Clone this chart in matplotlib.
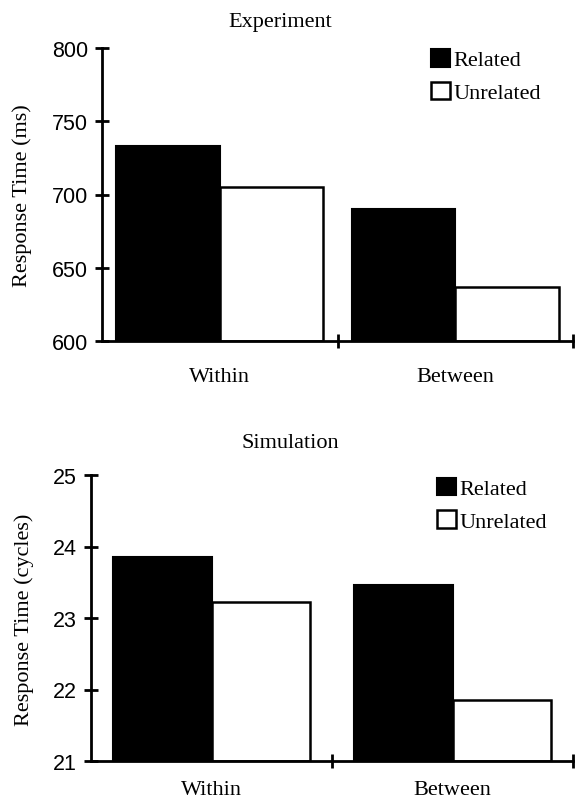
import matplotlib
matplotlib.use("Agg")
import matplotlib.pyplot as plt
from matplotlib.patches import Patch
from matplotlib.transforms import blended_transform_factory

# Data
categories = ["Within", "Between"]
exp_related = [733, 690]
exp_unrelated = [705, 637]
sim_related = [23.85, 23.46]
sim_unrelated = [23.22, 21.85]

exp_ticks = [600, 650, 700, 750, 800]
sim_ticks = [21, 22, 23, 24, 25]

SERIF = "Liberation Serif"
SANS = "Liberation Sans"
W, H = 575, 804

fig = plt.figure(figsize=(W / 100, H / 100), dpi=100)


def px_axes(left, right, top, bottom):
    return fig.add_axes([left / W, 1 - bottom / H, (right - left) / W, (bottom - top) / H])


def draw_panel(ax, related, unrelated, ticks, width, ylabel, title, title_xy,
               ylabel_xy, leg_anchor, cat_y):
    x = range(len(categories))
    rel_x = [i + 0.5 - width for i in x]
    unr_x = [i + 0.5 for i in x]
    ax.bar(rel_x, [v - ticks[0] for v in related], width=width, bottom=ticks[0],
           align="edge", color="black", edgecolor="black", linewidth=1.5)
    ax.bar(unr_x, [v - ticks[0] for v in unrelated], width=width, bottom=ticks[0],
           align="edge", color="white", edgecolor="black", linewidth=1.8)

    ax.set_xlim(0, len(categories))
    ax.set_ylim(ticks[0], ticks[-1])
    for s in ["top", "right"]:
        ax.spines[s].set_visible(False)
    for s in ["left", "bottom"]:
        ax.spines[s].set_linewidth(2)

    ax.set_yticks(ticks)
    ax.set_yticklabels([str(t) for t in ticks], fontfamily=SANS, fontsize=15.5)
    ax.tick_params(axis="y", direction="inout", length=10, width=2, pad=5)
    ax.set_xticks(range(1, len(categories) + 1))
    ax.set_xticklabels([])
    ax.tick_params(axis="x", direction="inout", length=10, width=2)
    for t in ax.xaxis.get_major_ticks():
        t.tick1line.set_clip_on(False)

    trans = blended_transform_factory(ax.transData, ax.transAxes)
    for i, c in enumerate(categories):
        ax.text(i + 0.5, cat_y, c, transform=trans, ha="center", va="center",
                fontfamily=SERIF, fontsize=16)

    fig.text(title_xy[0] / W, 1 - title_xy[1] / H, title, ha="center", va="center",
             fontfamily=SERIF, fontsize=16)
    fig.text(ylabel_xy[0] / W, 1 - ylabel_xy[1] / H, ylabel, ha="center", va="center",
             rotation=90, fontfamily=SERIF, fontsize=16)

    handles = [Patch(facecolor="black", edgecolor="black", linewidth=1.5),
               Patch(facecolor="white", edgecolor="black", linewidth=1.8)]
    ax.legend(handles, ["Related", "Unrelated"], loc="upper left",
              bbox_to_anchor=leg_anchor, frameon=False, borderpad=0,
              handlelength=0.85, handleheight=0.85, handletextpad=0.15,
              labelspacing=0.5, prop={"family": SERIF, "size": 16})


ax1 = px_axes(102, 573, 49, 342)
draw_panel(ax1, exp_related, exp_unrelated, exp_ticks, 0.44,
           "Response Time (ms)", "Experiment", (280, 23), (22, 196),
           (0.675, 1.035), -0.12)

ax2 = px_axes(91, 573, 476, 762)
draw_panel(ax2, sim_related, sim_unrelated, sim_ticks, 0.41,
           "Response Time (cycles)", "Simulation", (290, 444), (24, 620),
           (0.695, 1.03), -0.1)

fig.savefig("out.png", dpi=100)
